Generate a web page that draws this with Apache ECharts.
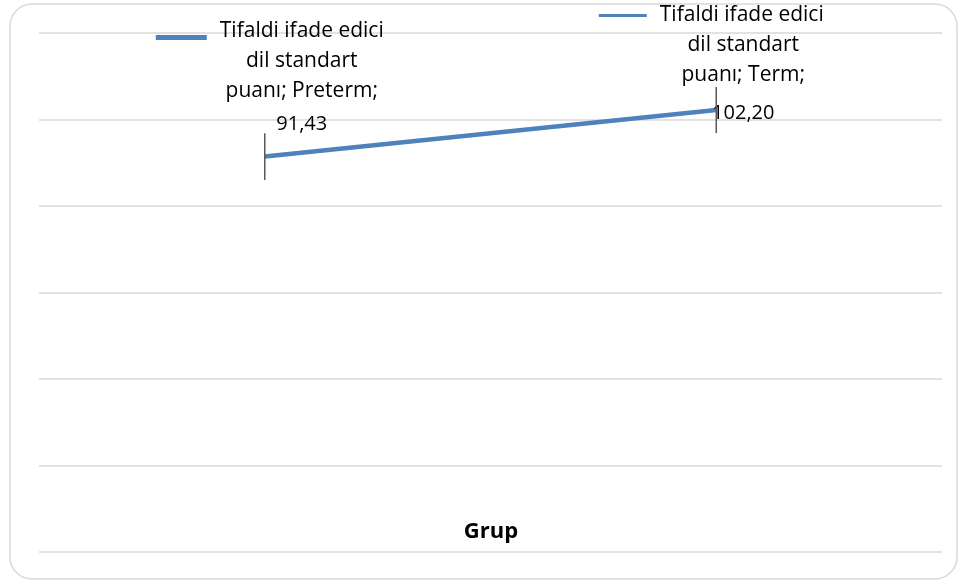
<!DOCTYPE html>
<html>
<head>
<meta charset="utf-8">
<script src="https://cdn.jsdelivr.net/npm/echarts@6/dist/echarts.min.js"></script>
<style>
  html, body { margin: 0; padding: 0; background: #fff; }
  #chart { width: 961px; height: 584px; }
</style>
</head>
<body>
<div id="chart"></div>
<script>
// Group means of the expressive language standard score, with error bars
const seriesName = 'Tifaldi ifade edici dil standart puanı';
const seriesNameLines = ['Tifaldi ifade edici', 'dil standart', 'puanı'];
const categories = ['Preterm', 'Term'];
const values = [91.43, 102.20];
const errors = [5.4, 5.3];
const axisTitle = 'Grup';

const blue = '#4f81bd';
const grey = '#d9d9d9';
const font = '"Open Sans", "Noto Sans", sans-serif';

const errorData = categories.map((c, i) => [i, values[i] - errors[i], values[i] + errors[i]]);

// per-point label shift (px) applied through labelLayout
const labelShift = [[37, -8.5], [27, 32]];

function labelText(p) {
  const v = p.value.toFixed(2).replace('.', ',');
  const s = p.dataIndex === 0 ? 'A' : 'B';
  return '{key' + s + '|}{gap|}{t|' + seriesNameLines[0] + '}{sp|}\n' +
    '{t|' + seriesNameLines[1] + '}\n' +
    '{t|' + seriesNameLines[2] + '; ' + p.name + ';}\n' +
    '{v' + s + '|' + v + '}';
}

// legend key sitting low in its line: a thick stroke at the bottom of a clear box
const lowKey = new echarts.graphic.LinearGradient(0, 0, 0, 1, [
  { offset: 0, color: 'rgba(79,129,189,0)' },
  { offset: 0.737, color: 'rgba(79,129,189,0)' },
  { offset: 0.737, color: blue },
  { offset: 1, color: blue }
]);

const rich = {
  keyA: { width: 51, height: 19, backgroundColor: lowKey },
  keyB: { width: 48, height: 3, backgroundColor: blue },
  gap: { width: 13 },
  sp: { width: 64 },
  t: { fontSize: 21, lineHeight: 30, color: '#000', fontFamily: font },
  vA: { fontSize: 20, lineHeight: 37, color: '#000', fontFamily: font },
  vB: { fontSize: 20, lineHeight: 46, color: '#000', fontFamily: font }
};

const chart = echarts.init(document.getElementById('chart'), null, { renderer: 'canvas' });
chart.setOption({
  animation: false,
  backgroundColor: '#fff',
  graphic: [{
    type: 'rect',
    shape: { x: 10, y: 4, width: 947, height: 575, r: 22 },
    style: { fill: 'none', stroke: grey, lineWidth: 1.5 },
    silent: true,
    z: -10
  }],
  title: {
    text: axisTitle,
    left: 486,
    textAlign: 'center',
    top: 516,
    textStyle: { fontFamily: font, fontSize: 22, fontWeight: 'bold', color: '#000' }
  },
  grid: { left: 39, right: 19, top: 33, bottom: 32 },
  xAxis: {
    type: 'category',
    data: categories,
    boundaryGap: true,
    axisLine: { show: false },
    axisTick: { show: false },
    axisLabel: { show: false }
  },
  yAxis: {
    type: 'value',
    min: 0,
    max: 120,
    interval: 20,
    axisLine: { show: false },
    axisTick: { show: false },
    axisLabel: { show: false },
    splitLine: { lineStyle: { color: grey, width: 1.5 } }
  },
  series: [
    {
      name: seriesName,
      type: 'line',
      data: values,
      symbol: 'circle',
      symbolSize: 1,
      showSymbol: true,
      itemStyle: { color: 'rgba(0,0,0,0)' },
      lineStyle: { color: blue, width: 4.5 },
      label: {
        show: true,
        position: 'top',
        distance: 5,
        align: 'center',
        formatter: labelText,
        rich: rich
      },
      labelLayout: function (params) {
        const s = labelShift[params.dataIndex] || [0, 0];
        return { dx: s[0], dy: s[1], hideOverlap: false };
      },
      z: 2
    },
    {
      type: 'custom',
      data: errorData,
      encode: { x: 0, y: [1, 2] },
      renderItem: function (params, api) {
        const x = api.value(0);
        const a = api.coord([x, api.value(1)]);
        const b = api.coord([x, api.value(2)]);
        return {
          type: 'line',
          shape: { x1: a[0], y1: a[1], x2: b[0], y2: b[1] },
          style: { stroke: '#595959', lineWidth: 1.5 }
        };
      },
      z: 3
    }
  ]
});
</script>
</body>
</html>
